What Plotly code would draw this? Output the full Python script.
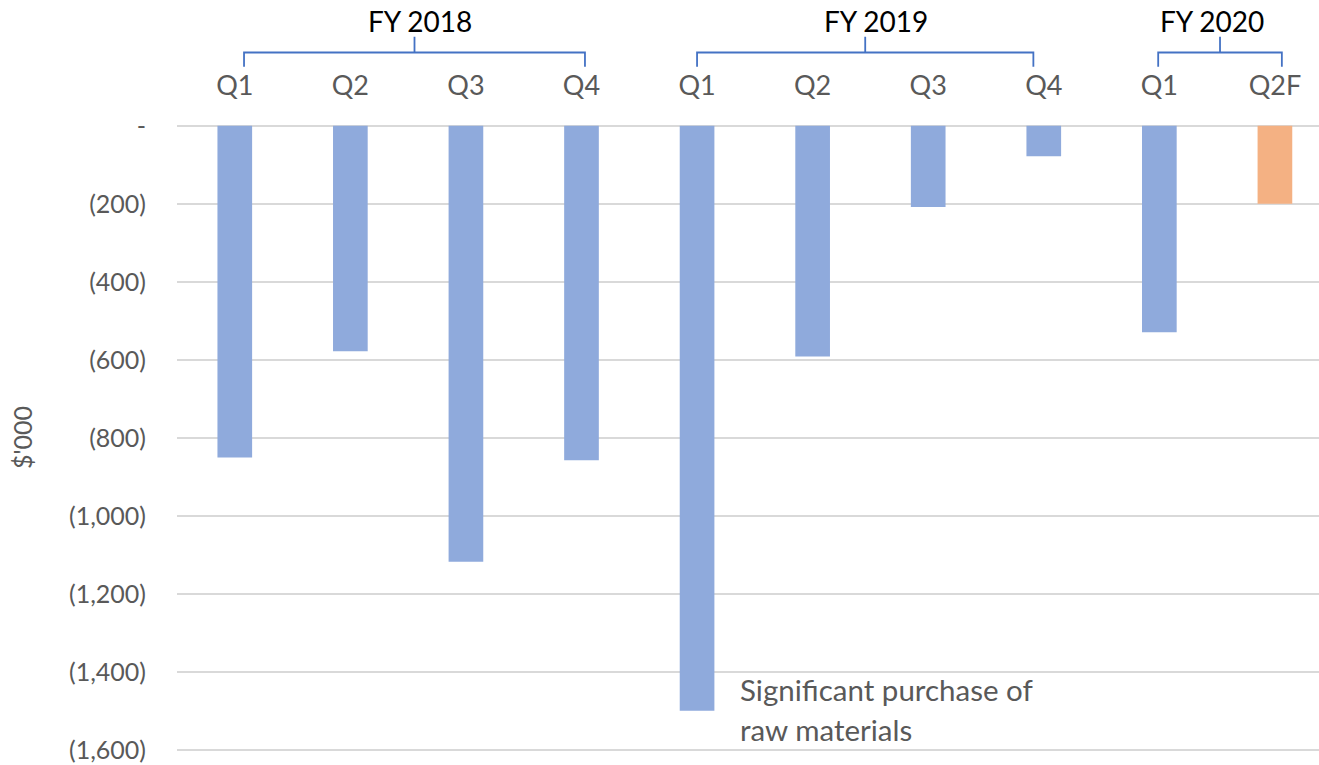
import plotly.graph_objects as go

# ---- data ----
quarter_labels = ["Q1", "Q2", "Q3", "Q4", "Q1", "Q2", "Q3", "Q4", "Q1", "Q2F"]
cash_flow = [-850, -578, -1117, -857, -1499, -591, -208, -78, -529, -200]
is_forecast = [False] * 9 + [True]
fiscal_years = ["FY 2018", "FY 2019", "FY 2020"]
year_start_idx = [0, 4, 8]
year_end_idx = [3, 7, 9]
y_tickvals = [0, -200, -400, -600, -800, -1000, -1200, -1400, -1600]
y_ticktext = ["-", "(200)", "(400)", "(600)", "(800)", "(1,000)", "(1,200)", "(1,400)", "(1,600)"]
note_lines = ["Significant purchase of", "raw materials"]

BLUE = "#8FAADC"
ORANGE = "#F4B183"
GREY_TXT = "#595959"
BRACKET = "#4472C4"
FONT = "Lato"

# bracket placement tweaks (layout only, in category units)
BR_LEFT_OFF = [0.08, 0.0, -0.01]
BR_RIGHT_OFF = [0.03, -0.09, 0.06]
BR_TEXT_OFF = [0.045, 0.095, -0.07]

W, H = 1319, 765
PX_PER_UNIT = (750.5 - 126.0) / 1600.0
Y_MIN, Y_MAX = -1620, 20
T_MARGIN = 126.0 - Y_MAX * PX_PER_UNIT
B_MARGIN = H - (750.5 + (-1600 - Y_MIN) * PX_PER_UNIT)
L_MARGIN, R_MARGIN = 176.7, 0

plot_h = H - T_MARGIN - B_MARGIN


def py_to_paper(py):
    return (H - B_MARGIN - py) / plot_h


x_pos = list(range(len(quarter_labels)))
colors = [ORANGE if f else BLUE for f in is_forecast]

fig = go.Figure()
fig.add_trace(go.Bar(
    x=x_pos, y=cash_flow, width=0.3,
    marker=dict(color=colors, line=dict(width=0)),
    showlegend=False, hoverinfo="y",
))

shapes = []
annotations = []
y_h = py_to_paper(52.7)
y_leg = py_to_paper(67)
y_tip = py_to_paper(37)
for k, (name, s, e) in enumerate(zip(fiscal_years, year_start_idx, year_end_idx)):
    x0 = s + BR_LEFT_OFF[k]
    x1 = e + BR_RIGHT_OFF[k]
    xm = (x0 + x1) / 2
    path = (f"M {x0},{y_leg} L {x0},{y_h} L {x1},{y_h} L {x1},{y_leg} "
            f"M {xm},{y_h} L {xm},{y_tip}")
    shapes.append(dict(type="path", xref="x", yref="paper", path=path,
                       line=dict(color=BRACKET, width=1.8)))
    annotations.append(dict(x=xm + BR_TEXT_OFF[k], y=py_to_paper(21),
                            xref="x", yref="paper", text=name, showarrow=False,
                            xanchor="center", yanchor="middle",
                            font=dict(family=FONT, size=28, color="#000000")))

# note near the tallest bar
note_x = cash_flow.index(min(cash_flow)) + 0.356
for i, line in enumerate(note_lines):
    annotations.append(dict(x=note_x, y=py_to_paper(690 + 40 * i), xref="x", yref="paper",
                            text=line, showarrow=False, xanchor="left", yanchor="middle",
                            font=dict(family=FONT, size=29.5, color=GREY_TXT)))

# y axis title
annotations.append(dict(x=-(L_MARGIN - 21) / (W - L_MARGIN - R_MARGIN), y=py_to_paper(438),
                        xref="paper", yref="paper", text="$'000", textangle=-90,
                        showarrow=False, xanchor="center", yanchor="middle",
                        font=dict(family=FONT, size=25, color=GREY_TXT)))

fig.update_layout(
    width=W, height=H,
    margin=dict(l=L_MARGIN, r=R_MARGIN, t=T_MARGIN, b=B_MARGIN, autoexpand=False),
    paper_bgcolor="white", plot_bgcolor="white",
    shapes=shapes, annotations=annotations,
    bargap=0.7,
)
fig.update_xaxes(
    side="top", range=[-0.5, -0.5 + (W - L_MARGIN) / 115.6],
    tickmode="array", tickvals=x_pos, ticktext=quarter_labels,
    tickfont=dict(family=FONT, size=27, color=GREY_TXT),
    showgrid=False, zeroline=False, showline=False, ticks="",
    ticklabelstandoff=17,
)
fig.update_yaxes(
    range=[Y_MIN, Y_MAX], tickmode="array", tickvals=y_tickvals, ticktext=y_ticktext,
    tickfont=dict(family=FONT, size=25, color=GREY_TXT),
    showgrid=True, gridcolor="#D9D9D9", gridwidth=2,
    zeroline=False, showline=False, ticks="", ticklabelstandoff=30,
)

fig.write_html("out.html")
